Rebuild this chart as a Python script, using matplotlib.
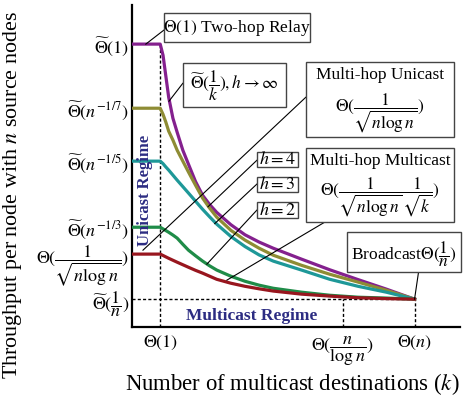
import numpy as np
import matplotlib
matplotlib.use('Agg')
import matplotlib.pyplot as plt
from matplotlib.patches import Rectangle

plt.rcParams['font.family'] = 'serif'
plt.rcParams['font.serif'] = ['Liberation Serif', 'DejaVu Serif']
plt.rcParams['mathtext.fontset'] = 'stix'

# number of multicast destinations k (schematic axis, Theta(1) at 1, Theta(n) at 10)
k_grid = [0, 1.0, 1.1, 1.2, 1.3, 1.45, 1.6, 1.8, 2.0, 2.25, 2.5, 2.75, 3.0,
          3.5, 4.0, 4.5, 5.0, 6.0, 7.0, 8.0, 9.0, 10.0]

# per-node throughput for each scheme (schematic levels)
thr_h_inf = [10.11, 10.11, 9.71, 8.96, 8.21, 7.46, 6.96, 6.32, 5.82, 5.20, 4.71, 4.38, 4.10,
             3.66, 3.30, 3.04, 2.82, 2.43, 2.05, 1.70, 1.36, 1.0]
thr_h4 = [7.82, 7.82, 7.60, 7.32, 7.00, 6.68, 6.32, 5.93, 5.54, 5.07, 4.61, 4.25, 3.93,
          3.46, 3.11, 2.82, 2.57, 2.21, 1.89, 1.61, 1.32, 1.0]
thr_h3 = [5.93, 5.93, 5.84, 5.72, 5.61, 5.43, 5.25, 5.02, 4.79, 4.50, 4.21, 3.94, 3.68,
          3.24, 2.88, 2.58, 2.36, 2.04, 1.71, 1.46, 1.25, 1.0]
thr_h2 = [3.57, 3.57, 3.51, 3.45, 3.39, 3.29, 3.18, 2.96, 2.75, 2.55, 2.36, 2.19, 2.04,
          1.82, 1.64, 1.50, 1.39, 1.25, 1.14, 1.07, 1.04, 1.0]
thr_unicast = [2.61, 2.61, 2.56, 2.51, 2.46, 2.39, 2.32, 2.23, 2.14, 2.03, 1.93, 1.82, 1.71,
               1.57, 1.46, 1.37, 1.29, 1.18, 1.11, 1.05, 1.02, 1.0]

curves = [thr_h_inf, thr_h4, thr_h3, thr_h2, thr_unicast]
colors = ['#84208E', '#8E8C34', '#1E9898', '#1F8C48', '#98161E']

y_ticks = [10.11, 7.82, 5.93, 3.57, 2.61, 1.0]
y_labels = [r'$\widetilde{\Theta}(1)$',
            r'$\widetilde{\Theta}(n^{-1/7})$',
            r'$\widetilde{\Theta}(n^{-1/5})$',
            r'$\widetilde{\Theta}(n^{-1/3})$',
            r'$\Theta(\dfrac{1}{\sqrt{n\log n}})$',
            r'$\widetilde{\Theta}(\dfrac{1}{n})$']
x_ticks = [1.0, 7.46, 10.0]
x_labels = [r'$\Theta(1)$', r'$\Theta(\dfrac{n}{\log n})$', r'$\Theta(n)$']

fig = plt.figure(figsize=(4.63, 3.99), dpi=100)
ax = fig.add_axes([0.285, 0.180, 0.708, 0.807])

for vals, c in zip(curves, colors):
    ax.plot(k_grid, vals, color=c, lw=2.3, solid_joinstyle='round', zorder=3)

# guide lines
dash = (0, (2.2, 1.6))
ax.plot([0, x_ticks[2]], [y_ticks[5], y_ticks[5]], color='k', lw=1, ls=dash, zorder=2)
ax.plot([x_ticks[0], x_ticks[0]], [0, y_ticks[0]], color='k', lw=1, ls=dash, zorder=2)
ax.plot([x_ticks[1], x_ticks[1]], [0, y_ticks[5]], color='k', lw=1, ls=dash, zorder=2)
ax.plot([x_ticks[2], x_ticks[2]], [0, y_ticks[5]], color='k', lw=1, ls=dash, zorder=2)

ax.set_xlim(0, 11.6)
ax.set_ylim(0, 11.5)
for s in ['top', 'right']:
    ax.spines[s].set_visible(False)
for s in ['left', 'bottom']:
    ax.spines[s].set_linewidth(1.6)

ax.set_yticks(y_ticks)
ax.set_yticklabels(y_labels, fontsize=13)
ax.set_xticks(x_ticks)
ax.set_xticklabels(x_labels, fontsize=13)
ax.tick_params(axis='y', length=0, pad=2)
ax.tick_params(axis='x', length=0, pad=5)

ax.set_ylabel(r'Throughput per node with $n$ source nodes', fontsize=15.8)
ax.yaxis.set_label_coords(-0.33, 0.41)
ax.set_xlabel(r'Number of multicast destinations ($k$)', fontsize=16.4)
ax.xaxis.set_label_coords(0.49, -0.135)

navy = '#2C2C82'
ax.text(0.46, 4.9, 'Unicast Regime', rotation=90, ha='center', va='center',
        fontsize=12, fontweight='bold', color=navy)
ax.text(4.24, 0.39, 'Multicast Regime', ha='center', va='center',
        fontsize=12.5, fontweight='bold', color=navy)


def note(lines, rect, anchor, target, fs=12.5):
    """Boxed label: rect = (x0, y0, x1, y1), lines = [(text, y), ...],
    leader drawn from anchor on the box to target on the curve."""
    x0, y0, x1, y1 = rect
    ax.plot([anchor[0], target[0]], [anchor[1], target[1]], color='k', lw=0.8,
            zorder=4, clip_on=False)
    ax.add_patch(Rectangle((x0, y0), x1 - x0, y1 - y0, fc='white', ec='#444444',
                           lw=1, zorder=5, clip_on=False))
    for txt, ty in lines:
        ax.text((x0 + x1) / 2, ty, txt, ha='center', va='center', fontsize=fs,
                zorder=6, clip_on=False)


note([(r'$\Theta(1)$ Two-hop Relay', 10.70)],
     (1.13, 10.18, 6.29, 11.21), (1.13, 10.61), (0.49, 10.11))
note([(r'$\widetilde{\Theta}(\dfrac{1}{k}), h\rightarrow\infty$', 8.62)],
     (1.80, 7.86, 5.44, 9.43), (1.80, 8.71), (1.31, 8.07))
note([('Multi-hop Unicast', 9.00), (r'$\Theta(\dfrac{1}{\sqrt{n\log n}})$', 7.62)],
     (6.15, 6.79, 11.41, 9.46), (6.15, 8.21), (0.39, 2.75))
note([('Multi-hop Multicast', 5.93),
      (r'$\Theta(\dfrac{1}{\sqrt{n\log n}}\dfrac{1}{\sqrt{k}})$', 4.62)],
     (6.15, 3.75, 11.41, 6.39), (6.82, 3.75), (3.36, 1.68))
note([(r'$h=4$', 5.98)], (4.42, 5.71, 5.87, 6.25), (4.42, 5.96), (2.69, 4.30), fs=13)
note([(r'$h=3$', 5.09)], (4.42, 4.82, 5.87, 5.36), (4.42, 5.11), (2.93, 3.70), fs=13)
note([(r'$h=2$', 4.17)], (4.42, 3.89, 5.87, 4.46), (4.42, 4.18), (2.65, 2.25), fs=13)
note([(r'Broadcast$\Theta(\dfrac{1}{n})$', 2.62)],
     (7.60, 1.96, 11.66, 3.39), (10.14, 1.96), (10.0, 1.0))

fig.savefig('out.png', dpi=100)
